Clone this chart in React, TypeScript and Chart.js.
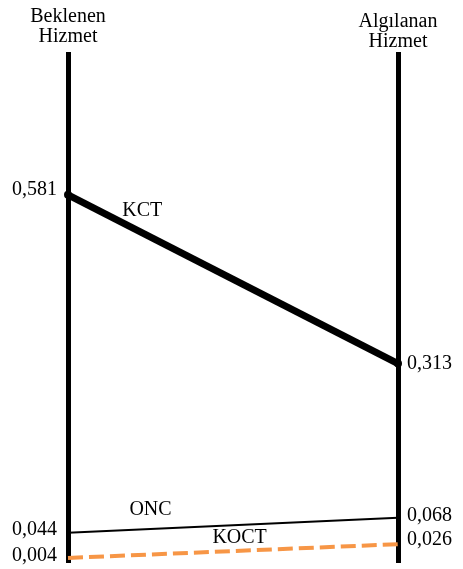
import React, { useEffect, useRef } from "react";
import { Chart, registerables } from "chart.js";

Chart.register(...registerables);

const categories = ["Beklenen Hizmet", "Algılanan Hizmet"];
const headerLines = [
  ["Beklenen", "Hizmet"],
  ["Algılanan", "Hizmet"],
];
const seriesNames = ["KCT", "ONC", "KOCT"];
const kctValues = [0.581, 0.313];
const oncValues = [0.044, 0.068];
const koctValues = [0.004, 0.026];

const FONT = "'Liberation Serif', serif";

const fmt = (v: number) => v.toFixed(3).replace(".", ",");

const labelPlugin = {
  id: "customLabels",
  afterDatasetsDraw(chart: any) {
    const { ctx } = chart;
    const xs = chart.scales.x;
    const ys = chart.scales.y;
    ctx.save();
    ctx.fillStyle = "#000";
    ctx.font = `20px ${FONT}`;
    // headers
    const headerTop = [17, 22];
    headerLines.forEach((lines, i) => {
      const x = xs.getPixelForValue(i);
      ctx.textAlign = "center";
      ctx.textBaseline = "middle";
      lines.forEach((t, j) => ctx.fillText(t, x, headerTop[i] + j * 20));
    });
    // value labels
    const yOffsets = [
      [-5, 0],
      [-3, -2],
      [-2, -4],
    ];
    [kctValues, oncValues, koctValues].forEach((vals, d) => {
      vals.forEach((v, i) => {
        const x = xs.getPixelForValue(i);
        const y = ys.getPixelForValue(v) + yOffsets[d][i];
        ctx.textBaseline = "middle";
        if (i === 0) {
          ctx.textAlign = "right";
          ctx.fillText(fmt(v), x - 11, y);
        } else {
          ctx.textAlign = "left";
          ctx.fillText(fmt(v), x + 9, y);
        }
      });
    });
    // series name labels
    const namePos = [
      { f: 0.225, dy: -22 },
      { f: 0.25, dy: -19 },
      { f: 0.52, dy: -14 },
    ];
    [kctValues, oncValues, koctValues].forEach((vals, d) => {
      const x0 = xs.getPixelForValue(0);
      const x1 = xs.getPixelForValue(1);
      const y0 = ys.getPixelForValue(vals[0]);
      const y1 = ys.getPixelForValue(vals[1]);
      const f = namePos[d].f;
      const x = x0 + (x1 - x0) * f;
      let y = y0 + (y1 - y0) * f + namePos[d].dy;
      if (d === 2) {
        const o0 = ys.getPixelForValue(oncValues[0]);
        const o1 = ys.getPixelForValue(oncValues[1]);
        y = o0 + (o1 - o0) * f + 13;
      }
      ctx.textAlign = "center";
      ctx.textBaseline = "middle";
      ctx.fillText(seriesNames[d], x, y);
    });
    ctx.restore();
  },
};

export default function App() {
  const ref = useRef<HTMLCanvasElement>(null);
  useEffect(() => {
    document.body.style.margin = "0";
    const chart = new Chart(ref.current!, {
      type: "line",
      data: {
        labels: categories,
        datasets: [
          {
            label: seriesNames[0],
            data: kctValues,
            borderColor: "#000",
            backgroundColor: "#000",
            borderWidth: 7,
            pointRadius: 4,
            pointBorderWidth: 0,
          },
          {
            label: seriesNames[1],
            data: oncValues,
            borderColor: "#000",
            backgroundColor: "#000",
            borderWidth: 2,
            pointRadius: 2,
            pointBorderWidth: 0,
          },
          {
            label: seriesNames[2],
            data: koctValues,
            borderColor: "#F79646",
            backgroundColor: "#F79646",
            borderWidth: 4,
            borderDash: [15, 6],
            pointRadius: 0,
          },
        ],
      },
      options: {
        animation: false,
        responsive: true,
        maintainAspectRatio: false,
        layout: { padding: { left: 68, right: 65, top: 52, bottom: 6 } },
        plugins: { legend: { display: false }, tooltip: { enabled: false } },
        scales: {
          x: {
            type: "category",
            offset: false,
            ticks: { display: false },
            grid: { color: "#000", lineWidth: 5, drawTicks: false },
            border: { display: false },
          },
          y: {
            display: false,
            min: -0.004,
            max: 0.808,
          },
        },
      },
      plugins: [labelPlugin],
    });
    return () => chart.destroy();
  }, []);
  return (
    <div style={{ position: "fixed", left: 0, top: 0, width: 463, height: 569, background: "#fff" }}>
      <canvas ref={ref} />
    </div>
  );
}
